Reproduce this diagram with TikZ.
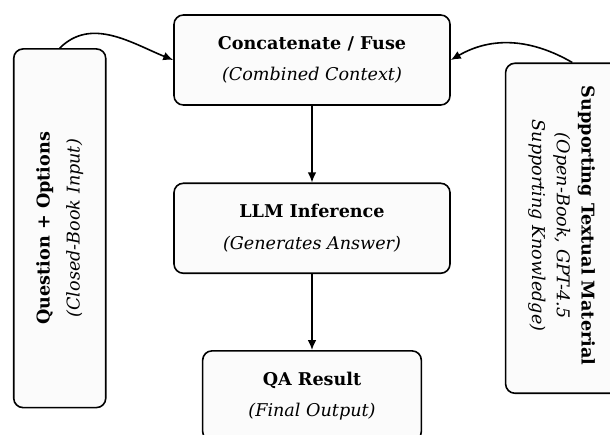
\documentclass[tikz,border=0pt]{standalone}
\usepackage{fontspec}
\setmainfont{DejaVu Serif}
\usetikzlibrary{positioning,arrows.meta}

\begin{document}
\begin{tikzpicture}[x=0.75pt, y=-0.75pt, node distance={57.5pt}, line width=1.2pt,
	>={Latex[length=7.5pt,width=6.5pt]},
	box/.style = {draw, line width=1.2pt, fill=gray!3, rounded corners=7pt},
	main/.style = {box, align=center, minimum width=207pt, minimum height=67.5pt,
		font=\fontsize{13.2}{23.5}\selectfont},
	side/.style = {box, inner sep=0pt},
	rest/.style = {draw=none, align=center, font=\fontsize{13.2}{22.5}\selectfont}]
\clip (0,0) rectangle (610,435);
\node[main] (fuse) at (312,60) {\textbf{Concatenate / Fuse}\\\textit{(Combined Context)}};
	\node[main, below=of fuse] (llm) {\textbf{LLM Inference}\\\textit{(Generates Answer)}};
\node[main, minimum width=164pt, below=57pt of llm] (qa) {\textbf{QA Result}\\\textit{(Final Output)}};
	\node[side, minimum width=69pt, minimum height=269pt, left=50pt of llm] (question) {};
\node[rest, rotate=90] (qtext) at (question) {\textbf{Question + Options}\\\textit{(Closed-Book Input)}};
	\node[side, minimum width=100pt, minimum height=247.5pt, right=40.5pt of llm] (support) {};
\node[rest, rotate=-90, font=\fontsize{13.2}{18.5}\selectfont] (stext) at ([xshift=-8pt,yshift=2pt]support.center)
	{\textbf{Supporting Textual Material}\\\textit{(Open-Book, GPT-4.5}\\\textit{Supporting Knowledge)}};
\draw[->] (fuse) -- (llm);
\draw[->] (llm) -- (qa);
\draw[->] (question.north) to[out=45, in=158] (fuse.west);
\draw[->] (support.north) to[out=150, in=30] (fuse.east);
\end{tikzpicture}
\end{document}
